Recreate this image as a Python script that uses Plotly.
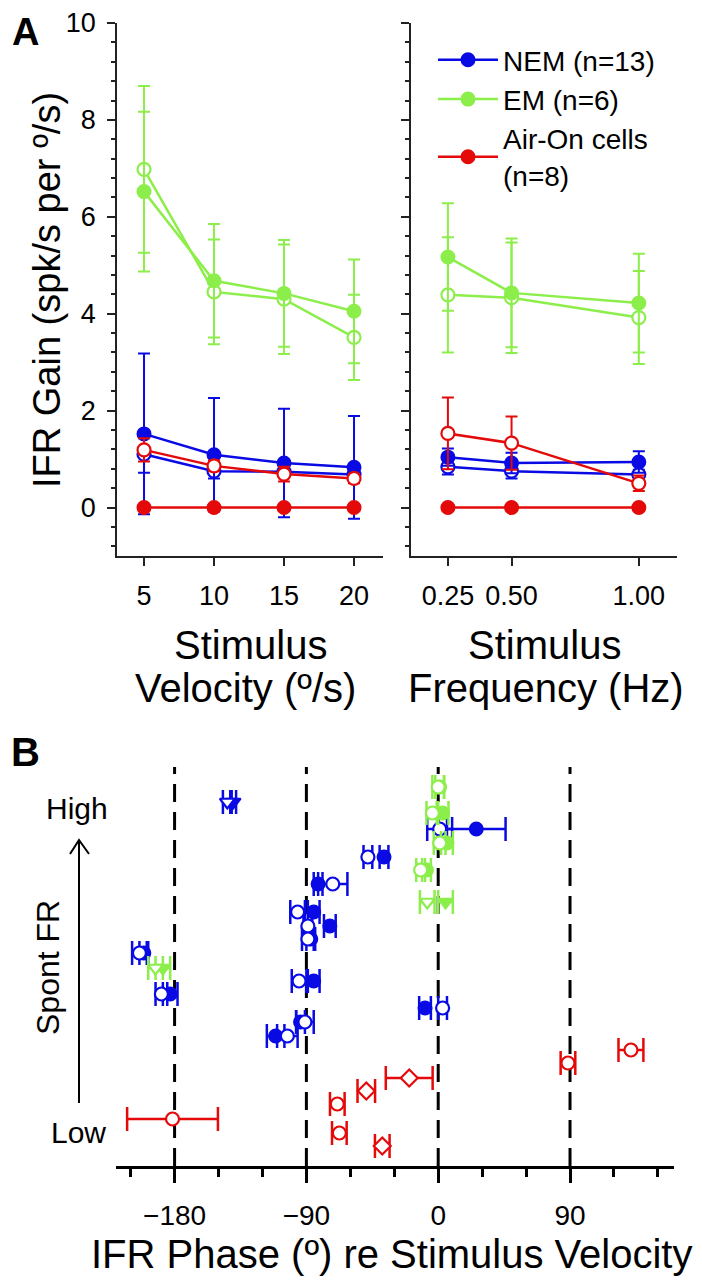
import plotly.graph_objects as go

FONT = "Liberation Sans, Arial, sans-serif"
BLUE = "#0a0ae4"
GREEN = "#8cee4a"
RED = "#e40a0a"

# ---- Panel A, left: IFR gain vs stimulus velocity ----
velocity = [5, 10, 15, 20]
nem_vel_filled = [1.52, 1.09, 0.92, 0.83]
nem_vel_filled_err = [1.66, 1.17, 1.12, 1.06]
nem_vel_open = [1.10, 0.75, 0.74, 0.68]
nem_vel_open_err = [0.38, 0.15, 0.12, 0.12]
em_vel_filled = [6.52, 4.68, 4.42, 4.05]
em_vel_filled_err = [1.65, 1.17, 1.10, 1.07]
em_vel_open = [6.98, 4.45, 4.30, 3.51]
em_vel_open_err = [1.72, 1.08, 1.13, 0.88]
air_vel_filled = [0, 0, 0, 0]
air_vel_open = [1.19, 0.86, 0.69, 0.60]
air_vel_open_err = [0.24, 0.11, 0.15, 0.10]

# ---- Panel A, right: IFR gain vs stimulus frequency ----
frequency = [0.25, 0.5, 1.0]
freq_ticktext = ["0.25", "0.50", "1.00"]
nem_freq_filled = [1.04, 0.92, 0.94]
nem_freq_filled_err = [0.18, 0.21, 0.22]
nem_freq_open = [0.84, 0.75, 0.68]
nem_freq_open_err = [0.16, 0.15, 0.10]
em_freq_filled = [5.17, 4.43, 4.22]
em_freq_filled_err = [1.11, 1.12, 1.02]
em_freq_open = [4.39, 4.33, 3.92]
em_freq_open_err = [1.19, 1.14, 0.96]
air_freq_filled = [0, 0, 0]
air_freq_open = [1.53, 1.33, 0.50]
air_freq_open_err = [0.74, 0.55, 0.16]

# ---- Panel B: IFR phase, cells ordered by spontaneous firing rate ----
nem_rank = [36.4, 33.7, 30.9, 28.2, 25.4, 24.0, 22.7, 21.3, 18.5, 17.2, 15.8, 14.4, 13.0]
nem_symbol = ["triangle-down"] + ["circle"] * 12
nem_phase_filled = [-140, 26, -37, -82, -85, -74, -87, -201, -85, -183, -9, -94, -111]
nem_phase_filled_err = [2, 20, 3, 3, 4, 4, 3, 3, 4, 5, 4, 3, 6]
nem_phase_open = [-144, 1, -48, -72, -96, -89, -89, -204, -95, -189, 3, -91, -103]
nem_phase_open_err = [3, 8.5, 3, 10, 5, 3, 4, 5, 5, 4, 3, 6, 7]

em_rank = [37.9, 35.3, 32.3, 29.6, 26.4, 19.8]
em_symbol = ["circle", "circle", "circle", "circle", "triangle-down", "triangle-down"]
em_phase_filled = [1, 3, 6, -8, 5, -188]
em_phase_filled_err = [3, 4, 4, 3, 5, 5]
em_phase_open = [0, -4, 1, -12, -7.5, -193]
em_phase_open_err = [4, 4, 4, 3, 5, 5]

air_rank = [11.6, 10.3, 8.8, 7.5, 6.2, 4.7, 3.3, 2.0]
air_symbol = ["circle", "circle", "diamond", "diamond", "circle", "circle", "circle", "diamond"]
air_phase_open = [131.6, 88.6, -19.8, -49.1, -68.9, -181.4, -67.5, -38.2]
air_phase_open_err = [8.5, 5, 16, 6, 5, 31, 5, 5]

guide_phases = [-180, -90, 0, 90]

fig = go.Figure()


def gain_trace(x, y, err, color, filled, xa, ya, name=None, legend=False, rank=None):
    if filled:
        marker = dict(size=13, color=color, line=dict(color=color, width=2))
    else:
        marker = dict(size=13, color="white", line=dict(color=color, width=2.2))
    return go.Scatter(
        x=x, y=y, mode="lines+markers", xaxis=xa, yaxis=ya,
        name=name, showlegend=legend, legendrank=rank,
        line=dict(color=color, width=2.5), marker=marker,
        error_y=dict(type="data", array=err, visible=err is not None,
                     color=color, thickness=2, width=6),
    )


for xa, ya, xs, sets, leg in [
    ("x", "y", velocity, [
        (em_vel_open, em_vel_open_err, GREEN, False, None, None),
        (em_vel_filled, em_vel_filled_err, GREEN, True, "EM (n=6)", 2),
        (nem_vel_open, nem_vel_open_err, BLUE, False, None, None),
        (nem_vel_filled, nem_vel_filled_err, BLUE, True, "NEM (n=13)", 1),
        (air_vel_open, air_vel_open_err, RED, False, None, None),
        (air_vel_filled, None, RED, True, "Air-On cells<br>(n=8)", 3),
    ], True),
    ("x2", "y2", frequency, [
        (em_freq_open, em_freq_open_err, GREEN, False, None, None),
        (em_freq_filled, em_freq_filled_err, GREEN, True, None, None),
        (nem_freq_open, nem_freq_open_err, BLUE, False, None, None),
        (nem_freq_filled, nem_freq_filled_err, BLUE, True, None, None),
        (air_freq_open, air_freq_open_err, RED, False, None, None),
        (air_freq_filled, None, RED, True, None, None),
    ], False),
]:
    for ys, err, col, filled, name, rank in sets:
        fig.add_trace(gain_trace(xs, ys, err, col, filled, xa, ya,
                                 name=name, legend=(leg and name is not None), rank=rank))


def phase_trace(x, y, err, color, symbols, filled):
    if filled:
        marker = dict(size=13, color=color, symbol=symbols, line=dict(color=color, width=2))
    else:
        marker = dict(size=13, color="white", symbol=symbols, line=dict(color=color, width=2.2))
    return go.Scatter(
        x=x, y=y, mode="markers", xaxis="x3", yaxis="y3", showlegend=False,
        marker=marker,
        error_x=dict(type="data", array=err, color=color, thickness=2.5, width=12),
    )


fig.add_trace(phase_trace(nem_phase_filled, nem_rank, nem_phase_filled_err, BLUE, nem_symbol, True))
fig.add_trace(phase_trace(nem_phase_open, nem_rank, nem_phase_open_err, BLUE, nem_symbol, False))
fig.add_trace(phase_trace(em_phase_filled, em_rank, em_phase_filled_err, GREEN, em_symbol, True))
fig.add_trace(phase_trace(em_phase_open, em_rank, em_phase_open_err, GREEN, em_symbol, False))
fig.add_trace(phase_trace(air_phase_open, air_rank, air_phase_open_err, RED, air_symbol, False))

for ph in guide_phases:
    fig.add_shape(type="line", xref="x3", yref="y3 domain", x0=ph, x1=ph, y0=0, y1=1,
                  line=dict(color="black", width=3, dash="18px,10px"), layer="below")

# page body keeps its default 8px margin, so lay out in a 694x1272 box offset by 8px
OFF = 8
W, H = 702 - OFF, 1280 - OFF


def px(x):
    return (x - OFF) / W


def py(y):
    return 1 - (y - OFF) / H


tickfont = dict(family=FONT, size=27, color="black")
gain_y = dict(range=[-1, 10], tick0=0, dtick=2, ticks="outside", ticklen=8, tickwidth=1.5,
              showline=True, linewidth=1.6, linecolor="#222", showgrid=False, zeroline=False,
              minor=dict(dtick=0.4, ticks="outside", ticklen=4, tickwidth=1.5, tickcolor="#222"),
              tickcolor="#222", tickfont=tickfont, ticklabelstandoff=6, automargin=False,
              domain=[py(556), py(23)])
common_x = dict(ticks="outside", ticklen=8, tickwidth=1.5, tickcolor="#222", showline=True,
                linewidth=1.6, linecolor="#222", showgrid=False, zeroline=False,
                tickfont=tickfont, ticklabelstandoff=7, automargin=False)

fig.update_layout(
    width=W, height=H, margin=dict(l=0, r=0, t=0, b=0, autoexpand=False),
    paper_bgcolor="white", plot_bgcolor="white",
    font=dict(family=FONT, color="black"),
    xaxis=dict(common_x, range=[3.07, 22.07], tickvals=velocity, anchor="y",
               domain=[px(117), px(383)]),
    yaxis=dict(gain_y, anchor="x"),
    xaxis2=dict(common_x, range=[0.105, 1.15], tickvals=frequency, ticktext=freq_ticktext,
                anchor="y2", domain=[px(411), px(677)]),
    yaxis2=dict(gain_y, anchor="x2", showticklabels=False),
    xaxis3=dict(range=[-220, 161], tick0=0, dtick=90, ticks="outside", ticklen=14, tickwidth=2.5,
                tickcolor="black", showline=True, linewidth=2.5, linecolor="black",
                showgrid=False, zeroline=False, tickfont=dict(family=FONT, size=28, color="black"),
                ticklabelstandoff=9, automargin=False,
                minor=dict(dtick=30, ticks="outside", ticklen=8, tickwidth=2.5, tickcolor="black"),
                anchor="y3", domain=[px(116), px(674)]),
    yaxis3=dict(range=[0, 39.9], visible=False, anchor="x3", automargin=False,
                domain=[py(1166), py(767)]),
    legend=dict(x=px(433), y=py(35), xanchor="left", yanchor="top", itemwidth=60,
                font=dict(family=FONT, size=28, color="black"), bgcolor="rgba(0,0,0,0)",
                traceorder="normal"),
)

annos = [
    ("A", 25, 9, 38, True, 0, "top"),
    ("B", 25, 752, 40, True, 0, "middle"),
    ("IFR Gain (spk/s per º/s)", 47, 290, 38, False, -90, "middle"),
    ("Stimulus", 250, 645, 40, False, 0, "middle"),
    ("Velocity (º/s)", 245, 688, 40, False, 0, "middle"),
    ("Stimulus", 544, 645, 40, False, 0, "middle"),
    ("Frequency (Hz)", 546, 688, 40, False, 0, "middle"),
    ("High", 77, 808, 30, False, 0, "middle"),
    ("Low", 78, 1132, 30, False, 0, "middle"),
    ("Spont FR", 48, 968, 32, False, -90, "middle"),
    ("IFR Phase (º) re Stimulus Velocity", 391, 1254, 40, False, 0, "middle"),
]
for text, x, y, size, bold, angle, yanc in annos:
    fig.add_annotation(
        text="<b>%s</b>" % text if bold else text, x=px(x), y=py(y), xref="paper", yref="paper",
        xanchor="center", yanchor=yanc, showarrow=False, textangle=angle,
        font=dict(family=FONT, size=size, color="black"),
    )

# Spont FR arrow (Low -> High)
ax_x = px(79)
fig.add_shape(type="path", xref="paper", yref="paper",
              path="M %f,%f L %f,%f M %f,%f L %f,%f L %f,%f" % (
                  ax_x, py(1103), ax_x, py(840),
                  px(70), py(854), ax_x, py(840), px(89), py(854)),
              line=dict(color="black", width=2))

fig.write_html("out.html")
